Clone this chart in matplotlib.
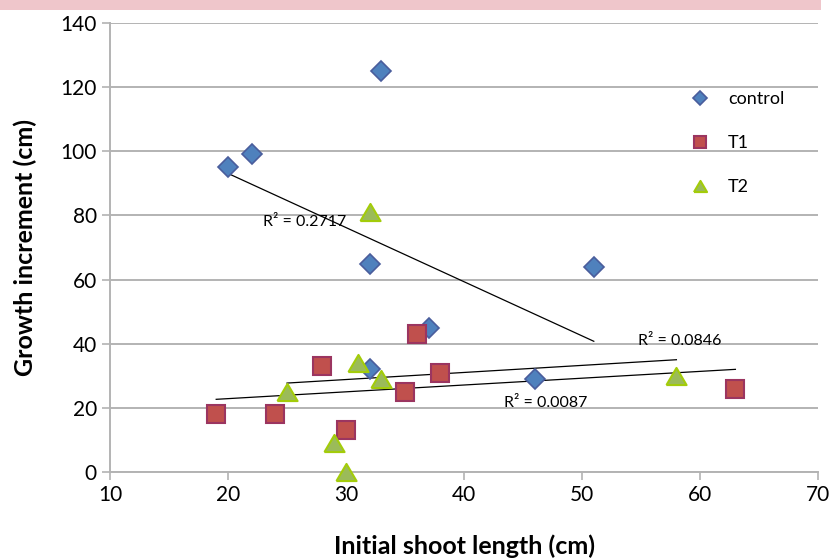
import numpy as np
import matplotlib.pyplot as plt
from matplotlib.patches import Rectangle

# shoot length (cm) vs growth increment (cm) per treatment
control_x = [20, 22, 33, 32, 51, 37, 32, 46]
control_y = [95, 99, 125, 65, 64, 45, 32, 29]
t1_x = [19, 24, 28, 36, 30, 38, 35, 63]
t1_y = [18, 18, 33, 43, 13, 31, 25, 26]
t2_x = [32, 31, 33, 25, 29, 30, 58]
t2_y = [81, 34, 29, 25, 9, 0, 30]

plt.rcParams['font.family'] = ['Lato', 'DejaVu Sans']

fig = plt.figure(figsize=(8.34, 5.59), dpi=100)
ax = fig.add_axes([110/834, 87/559, 708/834, 449/559])

# pink strip along the top edge
fig.patches.append(Rectangle((0, 1 - 10/559), 0.985, 10/559, transform=fig.transFigure,
                             facecolor='#efc6cb', edgecolor='none'))

tri = [(-1, -0.85), (1, -0.85), (0, 0.85), (-1, -0.85)]

ax.plot(control_x, control_y, ls='none', marker='D', ms=10.5, mfc='#4f81bd', mec='#4a5d9c',
        mew=1.2, label='control', zorder=3, clip_on=False)
ax.plot(t1_x, t1_y, ls='none', marker='s', ms=13.5, mfc='#c0504d', mec='#9b3560',
        mew=1.5, label='T1', zorder=3, clip_on=False)
ax.plot(t2_x, t2_y, ls='none', marker=tri, ms=14.5, mfc='#9bbb59', mec='#a3cc0a',
        mew=1.5, label='T2', zorder=3, clip_on=False)


def trend(x, y):
    x = np.asarray(x, float)
    y = np.asarray(y, float)
    k, b = np.polyfit(x, y, 1)
    r2 = np.corrcoef(x, y)[0, 1] ** 2
    xs = np.array([x.min(), x.max()])
    ax.plot(xs, k * xs + b, color='black', lw=0.9, zorder=2)
    return r2


r2_c = trend(control_x, control_y)
r2_1 = trend(t1_x, t1_y)
r2_2 = trend(t2_x, t2_y)

ax.text(26.5, 78, 'R² = %.4f' % r2_c, fontsize=11.5, ha='center', va='center', zorder=4)
ax.text(58.3, 41, 'R² = %.4f' % r2_1, fontsize=11.5, ha='center', va='center', zorder=4)
ax.text(46.9, 21.5, 'R² = %.4f' % r2_2, fontsize=11.5, ha='center', va='center', zorder=4)

ax.set_xlim(10, 70)
ax.set_ylim(0, 140)
ax.set_xticks(range(10, 71, 10))
ax.set_yticks(range(0, 141, 20))
ax.grid(axis='y', color='#b3b3b3', lw=1.4)
ax.set_axisbelow(True)
for s in ['top', 'right']:
    ax.spines[s].set_visible(False)
for s in ['left', 'bottom']:
    ax.spines[s].set_color('#b3b3b3')
    ax.spines[s].set_linewidth(1.4)
ax.tick_params(axis='both', colors='#b3b3b3', labelcolor='black', labelsize=15, length=6, width=1.2)

ax.set_xlabel('Initial shoot length (cm)', fontsize=18, fontweight='bold', labelpad=21)
ax.set_ylabel('Growth increment (cm)', fontsize=18, fontweight='bold', labelpad=17)

ax.legend(loc='upper left', bbox_to_anchor=(0.785, 0.885), frameon=False, fontsize=13,
          labelspacing=1.55, handletextpad=0.55, markerscale=0.65)

fig.savefig('out.png')
